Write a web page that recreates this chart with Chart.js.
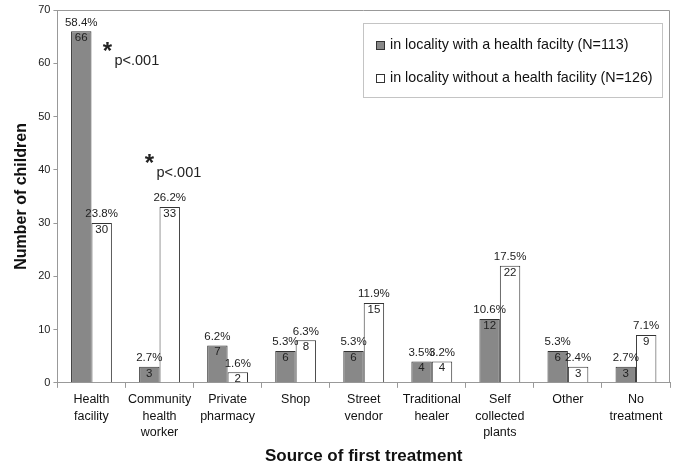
<!DOCTYPE html>
<html>
<head>
<meta charset="utf-8">
<script src="https://cdn.jsdelivr.net/npm/chart.js@4/dist/chart.umd.min.js"></script>
<style>
  html, body { margin: 0; padding: 0; background: #fff; }
  #wrap { width: 685px; height: 468px; }
</style>
</head>
<body>
<div id="wrap"><canvas id="chart" width="685" height="468"></canvas></div>
<script>
const categories = [
    ['Health', 'facility'],
    ['Community', 'health', 'worker'],
    ['Private', 'pharmacy'],
    ['Shop'],
    ['Street', 'vendor'],
    ['Traditional', 'healer'],
    ['Self', 'collected', 'plants'],
    ['Other'],
    ['No', 'treatment']
];
const withFacility = [66, 3, 7, 6, 6, 4, 12, 6, 3];
const withoutFacility = [30, 33, 2, 8, 15, 4, 22, 3, 9];
const pctWith = ['58.4%', '2.7%', '6.2%', '5.3%', '5.3%', '3.5%', '10.6%', '5.3%', '2.7%'];
const pctWithout = ['23.8%', '26.2%', '1.6%', '6.3%', '11.9%', '3.2%', '17.5%', '2.4%', '7.1%'];
const yTicks = [0, 10, 20, 30, 40, 50, 60, 70];
// significance marks: [category index, y value]
const sigMarks = [[0, 63], [1, 42]];

const FONT = 'Arial, "Liberation Sans", sans-serif';

const labelPlugin = {
    id: 'barLabels',
    afterDatasetsDraw(chart) {
        const ctx = chart.ctx;
        const pcts = [pctWith, pctWithout];
        ctx.save();
        ctx.fillStyle = '#222';
        ctx.font = '11.5px ' + FONT;
        chart.data.datasets.forEach((ds, di) => {
            chart.getDatasetMeta(di).data.forEach((bar, i) => {
                ctx.textAlign = 'center';
                ctx.textBaseline = 'top';
                ctx.fillText(String(ds.data[i]), bar.x, bar.y + 1);
                ctx.textBaseline = 'bottom';
                ctx.fillText(pcts[di][i], bar.x, bar.y - 3);
            });
        });
        // significance stars
        const xs = chart.scales.x, ys = chart.scales.y;
        const offs = [16, -10];
        sigMarks.forEach((m, k) => {
            const cx = xs.getPixelForValue(m[0]) + offs[k];
            const cy = ys.getPixelForValue(m[1]);
            ctx.textAlign = 'center';
            ctx.textBaseline = 'middle';
            ctx.font = 'bold 24px ' + FONT;
            ctx.fillText('*', cx, cy + 5);
            ctx.textAlign = 'left';
            ctx.font = '14.5px ' + FONT;
            ctx.fillText('p<.001', cx + 7, cy + 14);
        });
        ctx.restore();
    }
};

const framePlugin = {
    id: 'frame',
    afterDraw(chart) {
        const a = chart.chartArea;
        const ctx = chart.ctx;
        ctx.save();
        ctx.strokeStyle = '#999';
        ctx.lineWidth = 1;
        ctx.beginPath();
        ctx.moveTo(a.left, a.top + 0.5);
        ctx.lineTo(a.right - 0.5, a.top + 0.5);
        ctx.lineTo(a.right - 0.5, a.bottom);
        ctx.stroke();
        // legend box
        const bx = 363, by = 23, bw = 299, bh = 74;
        ctx.fillStyle = '#fff';
        ctx.fillRect(bx, by, bw, bh);
        ctx.strokeStyle = '#c4c4c4';
        ctx.strokeRect(bx + 0.5, by + 0.5, bw, bh);
        ctx.font = '14.3px ' + FONT;
        ctx.textBaseline = 'middle';
        ctx.textAlign = 'left';
        chart.data.datasets.forEach((ds, i) => {
            const y = by + 22 + i * 33;
            ctx.fillStyle = ds.backgroundColor;
            ctx.fillRect(bx + 13, y - 4, 8, 8);
            ctx.strokeStyle = '#333';
            ctx.strokeRect(bx + 13.5, y - 3.5, 8, 8);
            ctx.fillStyle = '#111';
            ctx.fillText(ds.label, bx + 27, y);
        });
        ctx.restore();
    }
};

new Chart(document.getElementById('chart').getContext('2d'), {
    type: 'bar',
    data: {
        labels: categories,
        datasets: [{
            label: 'in locality with a health facilty (N=113)',
            data: withFacility,
            backgroundColor: '#888888',
            borderColor: '#333333',
            borderWidth: 1,
            borderSkipped: 'bottom'
        }, {
            label: 'in locality without a health facility (N=126)',
            data: withoutFacility,
            backgroundColor: '#ffffff',
            borderColor: '#333333',
            borderWidth: 1,
            borderSkipped: 'bottom'
        }]
    },
    options: {
        responsive: false,
        animation: false,
        layout: { padding: { left: 6, right: 15, top: 10, bottom: 1 } },
        datasets: { bar: { categoryPercentage: 0.6, barPercentage: 1.0 } },
        plugins: {
            legend: { display: false },
            tooltip: { enabled: false }
        },
        scales: {
            x: {
                grid: { drawOnChartArea: false, drawTicks: true, tickLength: 5, color: '#999', offset: true },
                border: { color: '#999' },
                ticks: {
                    color: '#111',
                    font: { family: FONT, size: 12.5, lineHeight: 1.3 },
                    maxRotation: 0,
                    autoSkip: false,
                    padding: 4
                },
                title: {
                    display: true,
                    text: 'Source of first treatment',
                    color: '#111',
                    font: { family: FONT, size: 17, weight: 'bold', lineHeight: 1.2 },
                    padding: { top: 2, bottom: 0 }
                }
            },
            y: {
                min: 0,
                max: 70,
                afterBuildTicks(axis) { axis.ticks = yTicks.map(v => ({ value: v })); },
                grid: { drawOnChartArea: false, drawTicks: true, tickLength: 4, color: '#999' },
                border: { color: '#999' },
                ticks: { color: '#222', font: { family: FONT, size: 11 }, padding: 3 },
                title: {
                    display: true,
                    text: 'Number of children',
                    color: '#111',
                    font: { family: FONT, size: 16, weight: 'bold' },
                    padding: { top: 6, bottom: 4 }
                }
            }
        }
    },
    plugins: [labelPlugin, framePlugin]
});
</script>
</body>
</html>
